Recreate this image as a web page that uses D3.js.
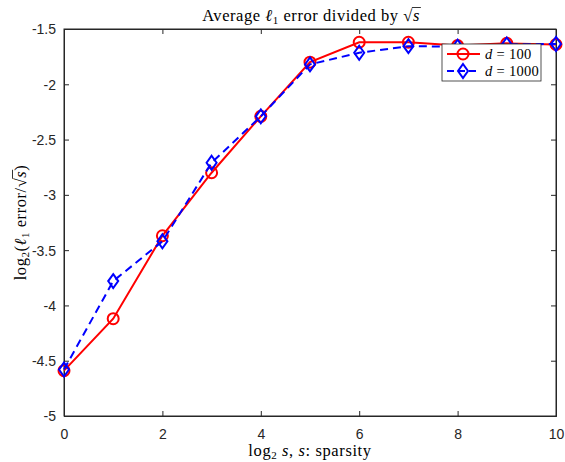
<!DOCTYPE html>
<html>
<head>
<meta charset="utf-8">
<script src="https://cdn.jsdelivr.net/npm/d3@7"></script>
<style>
  body { margin: 0; background: #fff; }
  svg { display: block; }
  .tick text { font-family: "Liberation Sans", Arial, sans-serif; font-size: 14px; fill: #262626; }
  .serif { font-family: "Liberation Serif", "Times New Roman", serif; fill: #000; }
</style>
</head>
<body>
<svg id="chart" width="565" height="462"></svg>
<script>
const sparsityLog = [0, 1, 2, 3, 4, 5, 6, 7, 8, 9, 10];
const errD100 = [-4.59, -4.12, -3.37, -2.80, -2.29, -1.80, -1.62, -1.62, -1.65, -1.63, -1.64];
const errD1000 = [-4.58, -3.78, -3.42, -2.71, -2.29, -1.82, -1.715, -1.655, -1.66, -1.64, -1.635];
const xTicks = [0, 2, 4, 6, 8, 10];
const yTicks = [-5, -4.5, -4, -3.5, -3, -2.5, -2, -1.5];

const margin = { top: 29, left: 64, right: 9, bottom: 46 };
const width = 565 - margin.left - margin.right;
const height = 462 - margin.top - margin.bottom;
const axisColor = '#262626';

const svg = d3.select('#chart');
const g = svg.append('g').attr('transform', `translate(${margin.left},${margin.top})`);

const x = d3.scaleLinear().domain([0, 10]).range([0, width]);
const y = d3.scaleLinear().domain([-5, -1.5]).range([height, 0]);

// box
g.append('rect')
    .attr('width', width).attr('height', height)
    .attr('fill', 'none').attr('stroke', axisColor).attr('stroke-width', 1);

const xAxis = g.append('g').attr('transform', `translate(0,${height})`)
    .call(d3.axisBottom(x).tickValues(xTicks).tickSize(-5).tickPadding(13).tickFormat(d3.format('d')));
const xAxisTop = g.append('g')
    .call(d3.axisTop(x).tickValues(xTicks).tickSize(-5).tickFormat(''));
const yAxis = g.append('g')
    .call(d3.axisLeft(y).tickValues(yTicks).tickSize(-5).tickPadding(8).tickFormat(d => d3.format('')(d).replace('−', '-')));
const yAxisRight = g.append('g').attr('transform', `translate(${width},0)`)
    .call(d3.axisRight(y).tickValues(yTicks).tickSize(-5).tickFormat(''));
[xAxis, xAxisTop, yAxis, yAxisRight].forEach(a => {
    a.select('.domain').attr('stroke', axisColor);
    a.selectAll('.tick line').attr('stroke', axisColor);
});
yAxis.selectAll('.tick text').attr('dy', '0.35em');

const line = d3.line().x((d, i) => x(sparsityLog[i])).y(d => y(d));

const series = [
    { values: errD100, color: '#ff0000', dash: null, marker: 'circle', label: '100' },
    { values: errD1000, color: '#0000ff', dash: '8,5', marker: 'diamond', label: '1000' }
];

function drawMarker(sel, type, color) {
    if (type === 'circle') {
        sel.append('circle').attr('r', 5.5)
            .attr('fill', 'none').attr('stroke', color).attr('stroke-width', 2);
    } else {
        sel.append('path').attr('d', 'M0,-7L5,0L0,7L-5,0Z')
            .attr('fill', 'none').attr('stroke', color).attr('stroke-width', 2);
    }
}

series.forEach(s => {
    g.append('path')
        .datum(s.values)
        .attr('d', line)
        .attr('fill', 'none')
        .attr('stroke', s.color)
        .attr('stroke-width', 2)
        .attr('stroke-dasharray', s.dash);
    s.values.forEach((v, i) => {
        const m = g.append('g').attr('transform', `translate(${x(sparsityLog[i])},${y(v)})`);
        drawMarker(m, s.marker, s.color);
    });
});

// legend
const legend = svg.append('g').attr('transform', 'translate(442,44)');
legend.append('rect').attr('width', 99).attr('height', 37)
    .attr('fill', '#fff').attr('stroke', axisColor).attr('stroke-width', 0.8);
series.forEach((s, i) => {
    const row = legend.append('g').attr('transform', `translate(0,${10 + i * 17})`);
    row.append('line').attr('x1', 5).attr('x2', 38)
        .attr('stroke', s.color).attr('stroke-width', 2).attr('stroke-dasharray', s.dash ? '7,4' : null);
    drawMarker(row.append('g').attr('transform', 'translate(21,0)'), s.marker, s.color);
    const t = row.append('text').attr('class', 'serif').attr('x', 43).attr('y', 5)
        .attr('font-size', 14.5).attr('letter-spacing', 0.3);
    t.append('tspan').attr('font-style', 'italic').text('d');
    t.append('tspan').text(' = ' + s.label);
});

// helper: overline over the radicand character
function overline(textNode, idx) {
    const node = textNode.node();
    const ext = node.getExtentOfChar(idx);
    const sq = node.getExtentOfChar(idx - 1);
    return { x1: sq.x + sq.width - 1, x2: ext.x + ext.width + 1, y: sq.y + 1.5 };
}

const labelSize = 16.5;
const subSize = 11;

// title
const title = svg.append('text').attr('class', 'serif')
    .attr('x', 311).attr('y', 21).attr('text-anchor', 'middle')
    .attr('font-size', labelSize).attr('letter-spacing', 0.55);
title.append('tspan').text('Average ');
title.append('tspan').attr('font-style', 'italic').text('ℓ');
title.append('tspan').attr('font-size', subSize).attr('dy', 3).text('1');
title.append('tspan').attr('dy', -3).text(' error divided by √');
title.append('tspan').attr('font-style', 'italic').text('s');
{
    const n = title.node().getNumberOfChars();
    const o = overline(title, n - 1);
    svg.append('line').attr('x1', o.x1).attr('x2', o.x2).attr('y1', o.y).attr('y2', o.y)
        .attr('stroke', '#000').attr('stroke-width', 0.8);
}

// x label
const xLabel = svg.append('text').attr('class', 'serif')
    .attr('x', 310).attr('y', 456).attr('text-anchor', 'middle')
    .attr('font-size', labelSize).attr('letter-spacing', 0.6);
xLabel.append('tspan').text('log');
xLabel.append('tspan').attr('font-size', subSize).attr('dy', 3).text('2');
xLabel.append('tspan').attr('dy', -3).attr('font-style', 'italic').text(' s');
xLabel.append('tspan').text(', ');
xLabel.append('tspan').attr('font-style', 'italic').text('s');
xLabel.append('tspan').text(': sparsity');

// y label
const yLabelPos = `translate(26,${margin.top + height / 2}) rotate(-90)`;
const yLabel = svg.append('text').attr('class', 'serif')
    .attr('transform', yLabelPos)
    .attr('text-anchor', 'middle').attr('font-size', labelSize).attr('letter-spacing', 0.55);
yLabel.append('tspan').text('log');
yLabel.append('tspan').attr('font-size', subSize).attr('dy', 3).text('2');
yLabel.append('tspan').attr('dy', -3).text('(');
yLabel.append('tspan').attr('font-style', 'italic').text('ℓ');
yLabel.append('tspan').attr('font-size', subSize).attr('dy', 3).text('1');
yLabel.append('tspan').attr('dy', -3).text(' error/√');
yLabel.append('tspan').attr('font-style', 'italic').text('s');
yLabel.append('tspan').text(')');
{
    const n = yLabel.node().getNumberOfChars();
    const o = overline(yLabel, n - 2);
    svg.append('line')
        .attr('transform', yLabelPos)
        .attr('x1', o.x1).attr('x2', o.x2).attr('y1', o.y).attr('y2', o.y)
        .attr('stroke', '#000').attr('stroke-width', 0.8);
}
</script>
</body>
</html>
